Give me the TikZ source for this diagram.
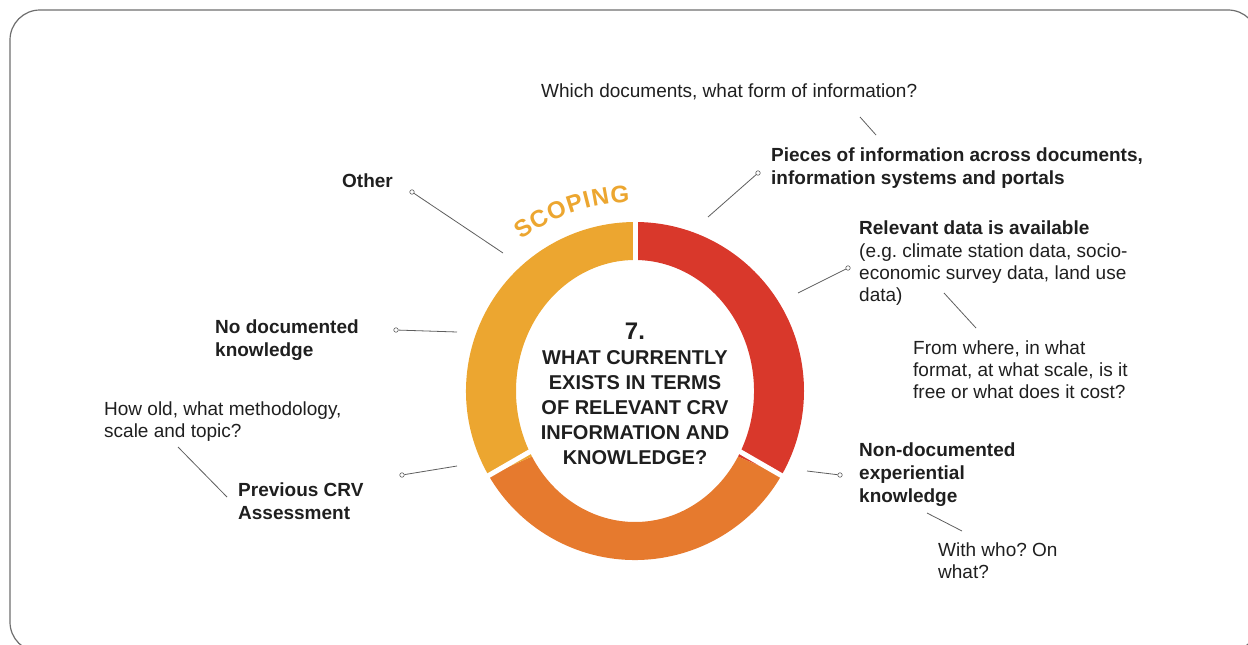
\documentclass[tikz,border=0pt]{standalone}
\usepackage{fontspec}
\setmainfont{Liberation Sans}
\frenchspacing
\definecolor{ringred}{HTML}{D9382B}
\definecolor{ringorange}{HTML}{E67A2E}
\definecolor{ringamber}{HTML}{ECA630}
\definecolor{leadgray}{HTML}{5E5E5E}
\definecolor{framegray}{HTML}{6E6E6E}
\definecolor{textdark}{HTML}{1F1F1F}
\begin{document}
\begin{tikzpicture}
	[
		x=1pt, y=-1pt,
		every node/.style={inner sep=0pt, text=textdark},
		lead/.style={draw=leadgray, line width=0.8pt},
		leadend/.style={circle, draw=leadgray, fill=white, line width=0.6pt, minimum size=4.5pt}
	]
	\tikzstyle{Topic} = [anchor=base west, align=left, font=\bfseries\fontsize{19}{23}\selectfont]
	\tikzstyle{Question} = [anchor=base west, align=left, font=\fontsize{19}{22}\selectfont]
	\tikzstyle{Arcletter} = [anchor=base, text=ringamber, font=\bfseries\fontsize{24}{24}\selectfont]
	\path[use as bounding box, clip] (0,0) rectangle (1248,645);
	\draw[framegray, line width=1.2pt, rounded corners=30pt] (10,10) rectangle (1258,652);

	\begin{scope}[shift={(635,391)}, y=1pt]
		\fill[ringred] (90:169) arc[start angle=90, end angle=-30, radius=169]
			-- (-30:119 and 131) arc[start angle=-30, end angle=90, x radius=119, y radius=131] -- cycle;
		\fill[ringorange] (-30:169) arc[start angle=-30, end angle=-150, radius=169]
			-- (-150:119 and 131) arc[start angle=-150, end angle=-30, x radius=119, y radius=131] -- cycle;
		\fill[ringamber] (210:169) arc[start angle=210, end angle=90, radius=169]
			-- (90:119 and 131) arc[start angle=90, end angle=210, x radius=119, y radius=131] -- cycle;
		\foreach \a in {90,-30,210}
			\draw[white, line width=5pt] (\a:100) -- (\a:175);
		\foreach \ch/\ang [count=\i] in {S/124.6, C/119.2, O/113.5, P/107.9, I/104.2, N/100.2, G/94.4}
			\node[Arcletter, rotate=\ang-90] (scoping\i) at (\ang:189) {\ch};
	\end{scope}

	\node[align=center, font=\bfseries\fontsize{20}{25}\selectfont] (question) at (635,394)
		{{\fontsize{24}{25}\selectfont 7.}\\WHAT CURRENTLY\\EXISTS IN TERMS\\OF RELEVANT CRV\\INFORMATION AND\\KNOWLEDGE?};

	\node[Question] (whichq) at (541,97) {Which documents, what form of information?};
	\node[Topic] (pieces) at (771,184) {Pieces of information across documents,\\information systems and portals};
	\node[Topic] (relevant) at (859,234) {Relevant data is available};
	\node[Question] (relevantnote) at (859,301) {(e.g. climate station data, socio-\\economic survey data, land use\\data)};
	\node[Question] (fromq) at (913,398) {From where, in what\\format, at what scale, is it\\free or what does it cost?};
	\node[Topic] (nondoc) at (859,502) {Non-documented\\experiential\\knowledge};
	\node[Question] (whoq) at (938,578) {With who? On\\what?};
	\node[Topic] (other) at (342,187) {Other};
	\node[Topic] (nodoc) at (215,356) {No documented\\knowledge};
	\node[Question] (howq) at (104,437) {How old, what methodology,\\scale and topic?};
	\node[Topic] (previous) at (238,519) {Previous CRV\\Assessment};

	\node[leadend] (otherdot) at (412,192) {};
	\node[leadend] (nodocdot) at (396,330) {};
	\node[leadend] (previousdot) at (402,475) {};
	\node[leadend] (piecesdot) at (758,173) {};
	\node[leadend] (relevantdot) at (848,268) {};
	\node[leadend] (nondocdot) at (840,475) {};
	\coordinate (otherring) at (503,253);
	\coordinate (nodocring) at (457,332);
	\coordinate (previousring) at (457,466);
	\coordinate (piecesring) at (708,217);
	\coordinate (relevantring) at (798,293);
	\coordinate (nondocring) at (807,471);
	\coordinate (whichqtip) at (860,117);
	\coordinate (whichqend) at (876,135);
	\coordinate (fromqtip) at (944,293);
	\coordinate (fromqend) at (976,328);
	\coordinate (whoqtip) at (927,513);
	\coordinate (whoqend) at (962,531);
	\coordinate (howqtip) at (178,447);
	\coordinate (howqend) at (227,497);

	\draw[lead] (otherdot) -- (otherring);
	\draw[lead] (nodocdot) -- (nodocring);
	\draw[lead] (previousdot) -- (previousring);
	\draw[lead] (piecesdot) -- (piecesring);
	\draw[lead] (relevantdot) -- (relevantring);
	\draw[lead] (nondocdot) -- (nondocring);
	\draw[lead] (whichqtip) -- (whichqend);
	\draw[lead] (fromqtip) -- (fromqend);
	\draw[lead] (whoqtip) -- (whoqend);
	\draw[lead] (howqtip) -- (howqend);
\end{tikzpicture}
\end{document}
